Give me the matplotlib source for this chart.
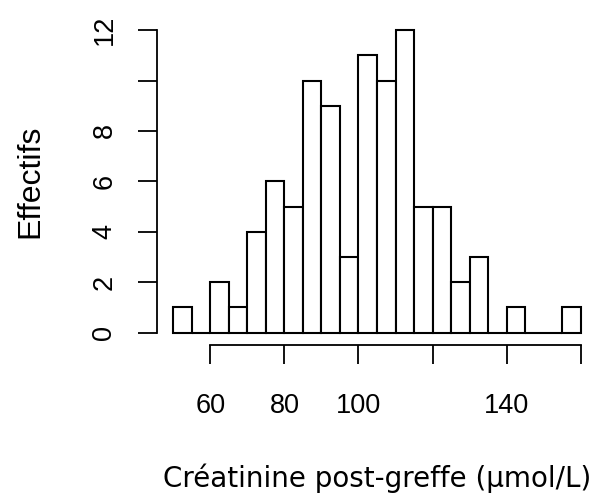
import matplotlib
matplotlib.use("Agg")
import matplotlib.pyplot as plt
import numpy as np

# histogram of post-graft creatinine, bins of 5 umol/L
bin_left = [50, 55, 60, 65, 70, 75, 80, 85, 90, 95, 100, 105, 110,
            115, 120, 125, 130, 135, 140, 145, 150, 155]
counts = [1, 0, 2, 1, 4, 6, 5, 10, 9, 3, 11, 10, 12,
          5, 5, 2, 3, 0, 1, 0, 0, 1]
bin_width = 5

x_ticks = [60, 80, 100, 120, 140, 160]
x_labels = ['60', '80', '100', '', '140', '']
y_ticks = [0, 2, 4, 6, 8, 10, 12]
y_labels = ['0', '2', '4', '6', '8', '', '12']


def main():
    fig = plt.figure(figsize=(6.11, 4.99), dpi=100)
    ax = fig.add_axes([0.257, 0.309, 0.72, 0.655])

    ax.bar(bin_left, counts, width=bin_width, align='edge',
           color='white', edgecolor='black', linewidth=1.5)

    ax.set_xlim(45.6, 164.4)
    ax.set_ylim(-0.48, 12.48)

    for s in ['top', 'right']:
        ax.spines[s].set_visible(False)
    ax.spines['left'].set_bounds(0, 12)
    ax.spines['bottom'].set_bounds(60, 160)
    for s in ['left', 'bottom']:
        ax.spines[s].set_linewidth(1.3)

    ax.set_xticks(x_ticks)
    ax.set_xticklabels(x_labels, fontsize=19.5, family='Liberation Sans')
    ax.set_yticks(y_ticks)
    ax.set_yticklabels(y_labels, fontsize=19.5, family='Liberation Sans',
                       rotation=90, va='center')
    ax.tick_params(axis='both', length=13.5, width=1.3)
    ax.tick_params(axis='x', pad=21)
    ax.tick_params(axis='y', pad=15)

    ax.set_xlabel('Créatinine post-greffe (µmol/L)', fontsize=20,
                  family='DejaVu Sans', labelpad=32)
    ax.set_ylabel('Effectifs', fontsize=23, family='Liberation Sans',
                  labelpad=33)

    fig.savefig('out.png', dpi=100)


if __name__ == "__main__":
    main()
